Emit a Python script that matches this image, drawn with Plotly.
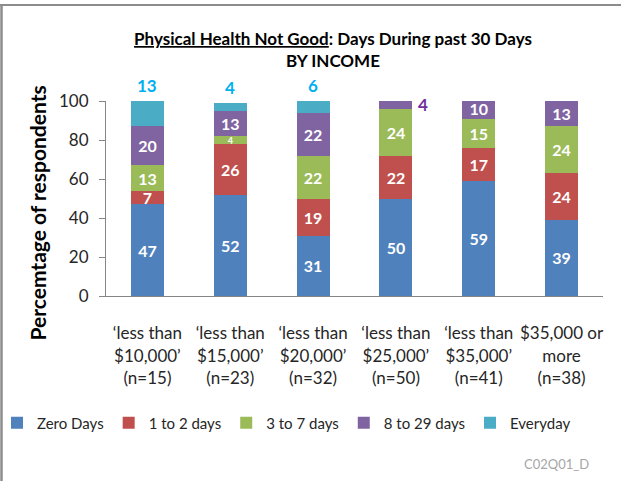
import plotly.graph_objects as go

categories = ["\u2018less than<br>$10,000\u2019<br>(n=15)",
              "\u2018less than<br>$15,000\u2019<br>(n=23)",
              "\u2018less than<br>$20,000\u2019<br>(n=32)",
              "\u2018less than<br>$25,000\u2019<br>(n=50)",
              "\u2018less than<br>$35,000\u2019<br>(n=41)",
              "$35,000 or<br>more<br>(n=38)"]
zero_days = [47, 52, 31, 50, 59, 39]
one_to_two = [7, 26, 19, 22, 17, 24]
three_to_seven = [13, 4, 22, 24, 15, 24]
eight_to_29 = [20, 13, 22, 4, 10, 13]
everyday = [13, 4, 6, 0, 0, 0]
series_names = ["Zero Days", "1 to 2 days", "3 to 7 days", "8 to 29 days", "Everyday"]
y_ticks = [0, 20, 40, 60, 80, 100]

FONT = "Lato, 'Open Sans', sans-serif"
colors = ["#4F81BD", "#C0504D", "#9BBB59", "#8064A2", "#4BACC6"]
series = [zero_days, one_to_two, three_to_seven, eight_to_29, everyday]

L, R, T, B = 106, 18, 101, 185
W, H = 621 - L - R, 481 - T - B


def px_x(px):
    return (px - L) / W


def px_y(py):
    return (481 - B - py) / H


fig = go.Figure()
for i, (name, vals) in enumerate(zip(series_names, series)):
    texts = []
    sizes = []
    for j, v in enumerate(vals):
        if i == 4:
            texts.append("")
        elif i == 3 and v < 5:
            texts.append("")  # shown outside as annotation
        else:
            texts.append(str(v))
        sizes.append(9 if v < 5 else 16)
    fig.add_trace(go.Bar(
        x=categories, y=vals, name=name,
        marker=dict(color=colors[i], line=dict(width=0)),
        text=texts, textposition="inside", insidetextanchor="middle",
        constraintext="none", textangle=0,
        textfont=dict(family=FONT, size=sizes, color="white", weight="bold"),
        hoverinfo="skip",
    ))

annotations = []
# Everyday labels above bars
for j, v in enumerate(everyday):
    if v > 0:
        total = sum(s[j] for s in series)
        annotations.append(dict(x=categories[j], y=total, xref="x", yref="y",
                                text=str(v), showarrow=False, yanchor="bottom",
                                xanchor="center", yshift=3,
                                font=dict(family=FONT, size=17, color="#00B0F0", weight="bold")))
# small 8-29 labels outside to the right
for j, v in enumerate(eight_to_29):
    if v < 5:
        top = zero_days[j] + one_to_two[j] + three_to_seven[j] + v
        annotations.append(dict(x=categories[j], y=top - v / 2, xref="x", yref="y",
                                text=str(v), showarrow=False, xanchor="left",
                                yanchor="middle", xshift=20,
                                font=dict(family=FONT, size=17, color="#7030A0", weight="bold")))
annotations.append(dict(x=px_x(36.5), y=px_y(213), xref="paper", yref="paper",
                        xanchor="center", yanchor="middle",
                        text="Percemtage of respondents", textangle=-90, showarrow=False,
                        font=dict(family=FONT, size=21, color="black", weight="bold")))
annotations.append(dict(x=px_x(556), y=px_y(464), xref="paper", yref="paper",
                        xanchor="center", yanchor="middle",
                        text="C02Q01_D", showarrow=False,
                        font=dict(family=FONT, size=13, color="#A6A6A6")))

fig.update_layout(
    barmode="stack", bargap=0.6,
    width=621, height=481, autosize=False,
    margin=dict(l=L, r=R, t=T, b=B, autoexpand=False),
    paper_bgcolor="white", plot_bgcolor="white",
    font=dict(family=FONT, color="#262626"),
    title=dict(text="<span style='text-decoration:underline'>Physical Health Not Good</span>: Days During past 30 Days<br>BY INCOME",
               x=333 / 621, xanchor="center", xref="container",
               y=1 - 45 / 481, yanchor="top", yref="container",
               font=dict(family=FONT, size=17, color="black", weight="bold")),
    xaxis=dict(showline=True, linecolor="#868686", linewidth=1, ticks="",
               tickfont=dict(family=FONT, size=17, color="#262626"),
               ticklabelstandoff=22, showgrid=False, fixedrange=True, automargin=False),
    yaxis=dict(range=[0, 100], tickvals=y_ticks, showline=True, linecolor="#868686",
               linewidth=1, ticks="outside", ticklen=6, tickcolor="#868686",
               showgrid=False, zeroline=False, automargin=False, ticklabelstandoff=7,
               tickfont=dict(family=FONT, size=17, color="#262626"), fixedrange=True),
    legend=dict(orientation="h", x=px_x(-3), xanchor="left",
                y=px_y(423), yanchor="middle", itemwidth=30,
                traceorder="normal", bgcolor="rgba(0,0,0,0)",
                font=dict(family=FONT, size=15, color="#262626"),
                tracegroupgap=0, itemclick=False),
    showlegend=True,
    annotations=annotations,
    shapes=[
        dict(type="line", xref="paper", yref="paper",
             x0=px_x(0), x1=px_x(621), y0=px_y(5), y1=px_y(5),
             line=dict(color="#8C8C8C", width=2)),
        dict(type="line", xref="paper", yref="paper",
             x0=px_x(1.5), x1=px_x(1.5), y0=px_y(5), y1=px_y(481),
             line=dict(color="#8C8C8C", width=2.5)),
    ],
)

fig.write_html("out.html", config={"displayModeBar": False},
               post_script="document.body.style.margin='0';")
